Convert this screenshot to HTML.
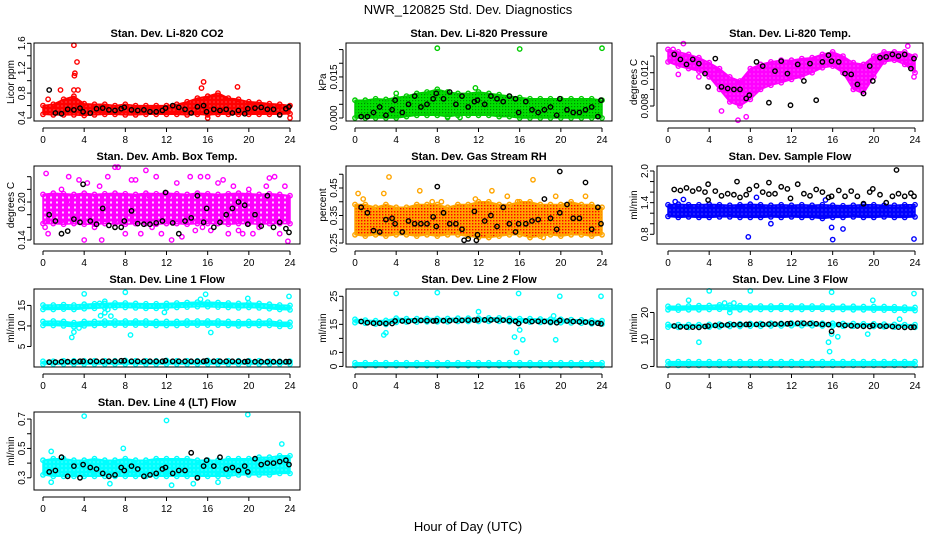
<!DOCTYPE html>
<html><head><meta charset="utf-8">
<style>
html,body{margin:0;padding:0;background:#fff;}
svg{display:block;font-family:"Liberation Sans",sans-serif;}
</style></head>
<body>
<svg id="chart" width="936" height="540" viewBox="0 0 936 540" xmlns="http://www.w3.org/2000/svg">
<defs>
<pattern id="rhpat" width="3" height="3" patternUnits="userSpaceOnUse"><rect width="3" height="3" fill="#ffa500"/><rect x="1" y="1" width="1.4" height="1.4" fill="#ff0000"/></pattern>
<pattern id="prpat" width="3" height="3" patternUnits="userSpaceOnUse"><rect width="3" height="3" fill="#00e000"/><rect x="1" y="1" width="1.2" height="1.2" fill="#008800"/></pattern>
<pattern id="redpat" width="4" height="4" patternUnits="userSpaceOnUse"><rect width="4" height="4" fill="#ff0000"/><rect x="1.5" y="1.5" width="1" height="1" fill="#ff9090"/></pattern>
<pattern id="magpat" width="4" height="4" patternUnits="userSpaceOnUse"><rect width="4" height="4" fill="#ff00ff"/><rect x="1.5" y="1.5" width="1" height="1" fill="#ff90ff"/></pattern>
<pattern id="magsparse" width="6" height="5" patternUnits="userSpaceOnUse"><rect width="6" height="5" fill="#ff00ff"/><rect x="2" y="1.5" width="2" height="2" fill="#ffd0ff"/></pattern>
<pattern id="bluepat" width="4" height="4" patternUnits="userSpaceOnUse"><rect width="4" height="4" fill="#0000ff"/><rect x="1.5" y="1.5" width="1" height="1" fill="#8080ff"/></pattern>
<pattern id="cyanpat" width="4" height="4" patternUnits="userSpaceOnUse"><rect width="4" height="4" fill="#00ffff"/><rect x="1.5" y="1.5" width="1" height="1" fill="#a0ffff"/></pattern>
</defs>
<text x="468" y="14" text-anchor="middle" font-size="13">NWR_120825  Std. Dev. Diagnostics</text>
<text x="468" y="531" text-anchor="middle" font-size="13">Hour of Day (UTC)</text>
<g id="plots"></g>
</svg>
<script>
const hourGrid=[0,1,2,3,4,5,6,7,8,9,10,11,12,13,14,15,16,17,18,19,20,21,22,23,24];
const xTicks=[0,4,8,12,16,20,24];
const blackHours=[0.6,1.2,1.8,2.4,3.0,3.6,3.9,4.6,5.2,5.8,6.4,7.0,7.6,7.9,8.6,9.2,9.8,10.4,11.0,11.6,11.9,12.6,13.2,13.8,14.4,15.0,15.6,15.9,16.6,17.2,17.8,18.4,19.0,19.6,19.9,20.6,21.2,21.8,22.4,23.0,23.6,23.9];

const co2Lo=[0.46,0.45,0.45,0.45,0.44,0.45,0.46,0.46,0.45,0.45,0.46,0.46,0.46,0.46,0.45,0.46,0.45,0.46,0.46,0.46,0.46,0.46,0.46,0.46,0.47];
const co2Hi=[0.6,0.62,0.7,0.75,0.63,0.62,0.62,0.6,0.62,0.6,0.6,0.6,0.6,0.62,0.66,0.72,0.75,0.8,0.72,0.7,0.66,0.65,0.63,0.62,0.6];
const co2Black=[0.85,0.48,0.47,0.54,0.53,0.56,0.5,0.48,0.55,0.56,0.53,0.52,0.55,0.57,0.53,0.52,0.53,0.5,0.5,0.52,0.56,0.6,0.57,0.54,0.48,0.58,0.6,0.5,0.54,0.52,0.54,0.48,0.52,0.47,0.55,0.56,0.57,0.54,0.54,0.45,0.55,0.58];
const co2Out=[[3,1.57],[3.3,1.3],[3.1,1.12],[3.05,1.08],[1.7,0.85],[3,0.85],[3.4,0.85],[15.6,0.98],[15.4,0.88],[18.9,0.9],[24,0.4],[16,0.4],[0.5,0.7]];

const presLo=[0,0,0,0,0,0.0005,0.001,0.001,0.001,0.0005,0.001,0.001,0.001,0.001,0.0005,0.0005,0,0,0,0,0,0,0,0,0];
const presHi=[0.0065,0.0065,0.007,0.0068,0.0075,0.008,0.009,0.0095,0.0105,0.0095,0.009,0.009,0.0095,0.009,0.0085,0.008,0.0075,0.007,0.007,0.007,0.007,0.007,0.007,0.007,0.0065];
const presBlack=[0.0005,0.0005,0.002,0.004,0.001,0.003,0.0065,0.002,0.005,0.008,0.004,0.005,0.007,0.009,0.007,0.0095,0.005,0.008,0.004,0.006,0.0065,0.005,0.008,0.007,0.006,0.008,0.007,0.002,0.006,0.003,0.002,0.003,0.004,0.001,0.007,0.003,0.002,0.002,0.003,0.004,0.0005,0.0065];
const presOut=[[8,0.0255],[16,0.0252],[24,0.0255],[11.7,0.011],[4,0.009],[9,0.0002],[10.2,0.0002]];

const tempLo=[0.0133,0.0128,0.0125,0.0122,0.0115,0.0100,0.0085,0.0080,0.0088,0.0100,0.0105,0.0108,0.0112,0.0115,0.0120,0.0126,0.0128,0.0120,0.0100,0.0095,0.0115,0.0133,0.0135,0.0130,0.0120];
const tempHi=[0.0148,0.0145,0.0142,0.0138,0.0132,0.0125,0.0115,0.0110,0.0125,0.0130,0.0133,0.0135,0.0135,0.0137,0.0138,0.0142,0.0145,0.0140,0.0132,0.0130,0.0140,0.0145,0.0145,0.0145,0.0140];
const tempBlack=[0.0142,0.0136,0.0130,0.0136,0.0131,0.0119,0.0103,0.0137,0.0103,0.0101,0.0100,0.0100,0.0089,0.0093,0.0133,0.0128,0.0084,0.0122,0.0134,0.0119,0.0081,0.0130,0.0110,0.0131,0.0087,0.0133,0.0141,0.0134,0.0133,0.0119,0.0118,0.0106,0.0095,0.0128,0.0110,0.0138,0.0139,0.0142,0.0140,0.0142,0.0125,0.0137];
const tempOut=[[0.5,0.0148],[1.5,0.0155],[5.2,0.0074],[6.8,0.0063],[7.6,0.0067],[23.3,0.0152],[23.9,0.0115],[1,0.0118],[3,0.0115]];

const ambLo=[0.166,0.166,0.165,0.166,0.165,0.165,0.166,0.166,0.165,0.166,0.166,0.165,0.166,0.166,0.165,0.166,0.166,0.166,0.165,0.166,0.166,0.165,0.166,0.166,0.166];
const ambHi=[0.212,0.214,0.213,0.212,0.214,0.212,0.213,0.214,0.213,0.212,0.214,0.213,0.214,0.213,0.212,0.214,0.213,0.212,0.213,0.214,0.213,0.212,0.213,0.212,0.21];
const ambBlack=[0.18,0.17,0.15,0.154,0.173,0.168,0.228,0.17,0.165,0.19,0.163,0.16,0.16,0.17,0.186,0.166,0.165,0.165,0.167,0.17,0.215,0.167,0.15,0.17,0.175,0.21,0.168,0.19,0.16,0.168,0.18,0.19,0.2,0.195,0.165,0.18,0.162,0.21,0.16,0.168,0.158,0.152];
const ambOut=[[0.3,0.245],[0.2,0.16],[0.5,0.15],[1.8,0.22],[2.5,0.24],[3.5,0.235],[4,0.14],[4.3,0.23],[5.5,0.225],[5.7,0.14],[6.3,0.24],[7,0.255],[7.3,0.255],[8.6,0.235],[9,0.235],[9.5,0.15],[10,0.25],[10.6,0.16],[11,0.24],[11.5,0.15],[12.2,0.21],[13,0.23],[13.5,0.145],[14.3,0.24],[14.8,0.155],[15.3,0.24],[16,0.24],[16.3,0.155],[17,0.23],[17.5,0.235],[18,0.15],[18.5,0.225],[19.4,0.15],[20,0.22],[20.4,0.15],[21,0.16],[21.7,0.225],[22,0.238],[22.5,0.24],[23,0.15],[23.5,0.225],[23.8,0.138],[2.7,0.2],[8,0.15],[12.5,0.14],[19,0.155],[5,0.16],[10.3,0.21],[15.5,0.16]];

const rhLo=[0.28,0.275,0.28,0.275,0.28,0.28,0.275,0.28,0.275,0.28,0.28,0.275,0.27,0.27,0.275,0.28,0.28,0.27,0.275,0.28,0.275,0.28,0.28,0.275,0.28];
const rhHi=[0.39,0.39,0.38,0.39,0.38,0.38,0.39,0.39,0.39,0.38,0.39,0.39,0.4,0.4,0.39,0.39,0.4,0.4,0.39,0.39,0.39,0.4,0.39,0.39,0.38];
const rhBlack=[0.38,0.36,0.295,0.29,0.335,0.34,0.32,0.29,0.33,0.32,0.32,0.32,0.345,0.31,0.36,0.32,0.32,0.30,0.265,0.365,0.28,0.33,0.35,0.31,0.38,0.32,0.29,0.32,0.32,0.33,0.335,0.41,0.34,0.30,0.36,0.39,0.34,0.34,0.47,0.30,0.38,0.32];
const rhOut=[[0.3,0.43],[0.8,0.41],[2.8,0.43],[3.3,0.49],[6.3,0.44],[7.5,0.4],[8.4,0.4],[11.7,0.41],[13.3,0.44],[14.8,0.42],[15.8,0.4],[17.3,0.48],[19.5,0.42],[22.4,0.42],[18.3,0.27],[13,0.27],[17,0.27]];
const rhBlackOut=[[19.9,0.51],[8,0.455],[10.6,0.26],[11.8,0.26]];

const flowLo=[1.14,1.12,1.13,1.12,1.12,1.13,1.13,1.12,1.12,1.12,1.13,1.12,1.13,1.12,1.12,1.1,1.12,1.12,1.13,1.12,1.12,1.13,1.12,1.12,1.13];
const flowHi=[1.36,1.37,1.36,1.36,1.37,1.36,1.35,1.36,1.37,1.36,1.35,1.36,1.35,1.36,1.35,1.36,1.35,1.34,1.35,1.36,1.36,1.35,1.35,1.36,1.36];
const flowBlack=[1.65,1.63,1.68,1.62,1.66,1.6,1.45,1.62,1.53,1.57,1.55,1.5,1.55,1.65,1.72,1.6,1.56,1.57,1.7,1.66,1.48,1.75,1.57,1.53,1.65,1.6,1.5,1.52,1.63,1.52,1.62,1.52,1.38,1.6,1.66,1.55,1.4,1.52,1.57,1.52,1.58,1.52];
const flowOut=[[7.8,0.75],[16,0.7],[23.9,0.71],[8.6,1.5],[15.3,1.45],[17,0.9],[15.9,0.93],[10,1.0],[0.7,1.42],[1.5,1.46]];
const flowBlackOut=[[22.2,2.02],[3.9,1.75],[9.8,1.78],[6.7,1.8]];

const l1TopLo=[14.0,14.0,14.1,14.0,14.2,14.3,14.4,14.5,14.5,14.4,14.3,14.3,14.4,14.5,14.6,14.7,14.7,14.6,14.5,14.4,14.5,14.4,14.2,14.0,13.9];
const l1TopHi=[15.1,15.1,15.2,15.1,15.3,15.4,15.5,15.6,15.6,15.5,15.4,15.4,15.5,15.6,15.7,15.8,15.8,15.7,15.6,15.5,15.6,15.5,15.3,15.1,15.0];
const l1MidLo=[10.1,10.1,10.0,9.8,10.0,10.1,10.2,10.2,10.2,10.2,10.2,10.1,10.1,10.1,10.2,10.2,10.2,10.2,10.1,10.0,10.1,10.1,10.1,9.9,9.9];
const l1MidHi=[11.1,11.2,11.1,10.8,11.1,11.1,11.2,11.2,11.2,11.2,11.2,11.1,11.1,11.1,11.2,11.2,11.2,11.2,11.1,11.0,11.1,11.1,11.2,10.9,10.9];
const l1BotLo=[0.7,0.7,0.7,0.7,0.7,0.7,0.7,0.7,0.7,0.7,0.7,0.7,0.7,0.7,0.7,0.7,0.7,0.7,0.7,0.7,0.7,0.7,0.7,0.7,0.7];
const l1BotHi=[1.4,1.4,1.5,1.5,1.5,1.5,1.5,1.5,1.6,1.5,1.5,1.5,1.6,1.5,1.5,1.5,1.6,1.5,1.5,1.5,1.5,1.5,1.4,1.4,1.4];
const l1Black=[1.2,1.2,1.3,1.3,1.3,1.4,1.4,1.4,1.4,1.4,1.4,1.4,1.5,1.5,1.4,1.4,1.4,1.4,1.4,1.4,1.5,1.4,1.4,1.4,1.4,1.4,1.4,1.5,1.4,1.4,1.4,1.4,1.4,1.3,1.4,1.3,1.3,1.3,1.3,1.3,1.3,1.3];
const l1Out=[[4,17.8],[8,18.2],[15.8,17.7],[19.9,16.7],[23.9,17.2],[2.8,7.2],[3,8.5],[8.5,7.8],[16.3,8.4],[5.6,12.5],[6,13.2],[6.3,14],[6.6,12.4],[5.5,15.5],[6,16],[15.3,16.5],[11.8,13.3],[3.5,9.5],[3.8,10.5]];

const l2TopLo=[15.6,15.4,15.1,15.0,15.7,15.8,15.8,15.9,15.9,15.9,16.0,16.0,16.0,16.1,16.1,15.9,15.8,15.8,15.7,15.6,15.6,15.5,15.4,15.2,15.1];
const l2TopHi=[16.8,16.5,16.3,16.4,17.2,17.0,17.0,17.1,17.1,17.1,17.2,17.2,17.2,17.3,17.3,17.1,17.0,17.0,16.9,16.8,16.8,16.7,16.6,16.4,16.3];
const l2BotLo=[0.3,0.3,0.3,0.3,0.3,0.3,0.3,0.3,0.3,0.3,0.3,0.3,0.3,0.3,0.3,0.3,0.3,0.3,0.3,0.3,0.3,0.3,0.3,0.3,0.3];
const l2BotHi=[1.3,1.3,1.3,1.3,1.3,1.3,1.3,1.3,1.3,1.3,1.3,1.3,1.3,1.3,1.3,1.3,1.3,1.3,1.3,1.3,1.3,1.3,1.3,1.3,1.3];
const l2Black=[16,15.6,15.4,15.4,15.3,15.3,16.2,16.2,16.1,16.3,16.4,16.3,16.2,16.3,16.3,16.3,16.4,16.4,16.5,16.5,16.6,16.6,16.6,16.5,16.5,16.3,16.1,15.3,16.2,16,16.1,16,15.8,15.6,16.4,16.2,16,15.9,15.8,15.5,15.4,15.2];
const l2Out=[[4,26],[8,26.3],[15.9,26],[19.9,25],[23.9,25],[12,19.5],[2.8,11.2],[3,12],[15.5,10.5],[15.7,5],[16.3,9.5],[16,13],[19.5,9.5],[19.3,18]];

const l3TopLo=[21.0,20.9,21.0,21.0,21.1,21.2,21.1,21.0,21.0,21.1,21.1,21.2,21.1,21.1,21.2,21.2,21.1,21.1,21.0,21.0,20.9,20.9,20.8,20.8,20.7];
const l3TopHi=[22.3,22.3,22.4,22.5,22.6,22.8,22.7,22.5,22.4,22.4,22.4,22.5,22.4,22.4,22.4,22.4,22.3,22.3,22.3,22.2,22.2,22.2,22.1,22.0,21.9];
const l3MidLo=[14.6,14.5,14.5,14.5,14.6,14.7,14.8,14.8,14.9,14.9,15.0,15.0,15.1,15.1,15.1,15.0,15.0,14.9,14.9,14.8,14.8,14.7,14.6,14.5,14.5];
const l3MidHi=[15.6,15.5,15.5,15.5,15.6,15.7,15.8,15.8,15.9,15.9,16.0,16.0,16.1,16.1,16.1,16.0,16.0,15.9,15.9,15.8,15.8,15.7,15.6,15.5,15.5];
const l3BotLo=[0.4,0.4,0.4,0.4,0.4,0.4,0.4,0.4,0.4,0.4,0.4,0.4,0.4,0.4,0.4,0.4,0.4,0.4,0.4,0.4,0.4,0.4,0.4,0.4,0.4];
const l3BotHi=[1.8,1.8,1.8,1.8,1.8,1.8,1.8,1.8,1.8,1.8,1.8,1.8,1.8,1.8,1.8,1.8,1.8,1.8,1.8,1.8,1.8,1.8,1.8,1.8,1.8];
const l3Black=[15,14.7,14.6,14.6,14.5,14.8,15,15.2,15.3,15.4,15.5,15.5,15.6,15.6,15.6,15.6,15.7,15.7,15.8,15.8,15.9,16,16,15.9,15.8,15.6,15.5,13,15.5,15.2,15.1,15,14.9,14.8,15.2,15,14.9,14.8,14.6,14.5,14.5,14.6];
const l3Out=[[4,28],[8,28],[15.9,27.5],[19.9,24.5],[23.9,27],[3,9],[2,24.5],[15.6,9],[15.7,5.5],[16.5,11],[19.4,12],[22.5,17.5],[5.5,23.5],[6,20],[6.4,23.5],[15.9,12]];

const l4Lo=[0.32,0.31,0.31,0.31,0.31,0.31,0.31,0.31,0.31,0.31,0.31,0.31,0.31,0.31,0.31,0.31,0.31,0.31,0.31,0.32,0.32,0.32,0.32,0.33,0.33];
const l4Hi=[0.42,0.43,0.43,0.42,0.42,0.43,0.42,0.42,0.43,0.42,0.42,0.43,0.43,0.43,0.43,0.42,0.42,0.42,0.43,0.43,0.43,0.44,0.44,0.45,0.45];
const l4Black=[0.34,0.35,0.44,0.31,0.38,0.3,0.39,0.37,0.36,0.33,0.31,0.32,0.37,0.35,0.38,0.36,0.31,0.32,0.33,0.36,0.37,0.33,0.35,0.35,0.47,0.3,0.38,0.42,0.38,0.44,0.36,0.37,0.35,0.38,0.34,0.43,0.39,0.4,0.4,0.41,0.42,0.39];
const l4Out=[[4,0.72],[12,0.69],[19.9,0.73],[0.8,0.48],[7.8,0.5],[23.2,0.53],[0.8,0.27],[6.5,0.26],[12.5,0.25],[14.6,0.26],[17,0.27]];

const colLeft=[34,346,657], colX0=[43,355,668];
const rowTop=[43,166,289,412];
const panels=[
 {name:'co2',title:'Stan. Dev. Li-820 CO2',ylab:'Licor ppm',c:0,r:0,dom:[0.352,1.605],ticks:[0.4,0.6,0.8,1.0,1.2,1.4,1.6],labels:['0.4','','0.8','','1.2','','1.6'],color:'#ff0000',fill:'url(#redpat)',bands:[[co2Lo,co2Hi]],black:co2Black,out:co2Out},
 {name:'pressure',title:'Stan. Dev. Li-820 Pressure',ylab:'kPa',c:1,r:0,dom:[-0.0011,0.0274],ticks:[0,0.005,0.01,0.015,0.02,0.025],labels:['0.000','','','0.015','',''],color:'#00cc00',fill:'url(#prpat)',bands:[[presLo,presHi]],black:presBlack,out:presOut},
 {name:'li820-temp',title:'Stan. Dev. Li-820 Temp.',ylab:'degrees C',c:2,r:0,dom:[0.0062,0.01557],ticks:[0.008,0.010,0.012,0.014],labels:['0.008','','0.012',''],color:'#ff00ff',fill:'url(#magpat)',bands:[[tempLo,tempHi]],black:tempBlack,out:tempOut},
 {name:'amb-box-temp',title:'Stan. Dev. Amb. Box Temp.',ylab:'degrees C',c:0,r:1,dom:[0.1337,0.2569],ticks:[0.14,0.16,0.18,0.20,0.22,0.24],labels:['0.14','','','0.20','',''],color:'#ff00ff',fill:'url(#magsparse)',bands:[[ambLo,ambHi]],black:ambBlack,out:ambOut},
 {name:'gas-stream-rh',title:'Stan. Dev. Gas Stream RH',ylab:'percent',c:1,r:1,dom:[0.2464,0.53],ticks:[0.25,0.30,0.35,0.40,0.45,0.50],labels:['0.25','','0.35','','0.45',''],color:'#ffa500',fill:'url(#rhpat)',bands:[[rhLo,rhHi]],black:rhBlack,out:rhOut,blackOut:rhBlackOut},
 {name:'sample-flow',title:'Stan. Dev. Sample Flow',ylab:'ml/min',c:2,r:1,dom:[0.616,2.095],ticks:[0.8,1.0,1.2,1.4,1.6,1.8,2.0],labels:['0.8','','','1.4','','','2.0'],color:'#0000ff',fill:'url(#bluepat)',bands:[[flowLo,flowHi]],black:flowBlack,out:flowOut,blackOut:flowBlackOut},
 {name:'line1-flow',title:'Stan. Dev. Line 1 Flow',ylab:'ml/min',c:0,r:2,dom:[0,19.0],ticks:[5,10,15],labels:['5','10','15'],color:'#00ffff',fill:'url(#cyanpat)',bands:[[l1TopLo,l1TopHi],[l1MidLo,l1MidHi],[l1BotLo,l1BotHi]],black:l1Black,out:l1Out},
 {name:'line2-flow',title:'Stan. Dev. Line 2 Flow',ylab:'ml/min',c:1,r:2,dom:[-0.2,27.6],ticks:[0,5,10,15,20,25],labels:['0','5','','15','','25'],color:'#00ffff',fill:'url(#cyanpat)',bands:[[l2TopLo,l2TopHi],[l2BotLo,l2BotHi]],black:l2Black,out:l2Out},
 {name:'line3-flow',title:'Stan. Dev. Line 3 Flow',ylab:'ml/min',c:2,r:2,dom:[-0.2,28.7],ticks:[0,10,20],labels:['0','10','20'],color:'#00ffff',fill:'url(#cyanpat)',bands:[[l3TopLo,l3TopHi],[l3MidLo,l3MidHi],[l3BotLo,l3BotHi]],black:l3Black,out:l3Out},
 {name:'line4-flow',title:'Stan. Dev. Line 4 (LT) Flow',ylab:'ml/min',c:0,r:3,dom:[0.217,0.748],ticks:[0.3,0.4,0.5,0.6,0.7],labels:['0.3','','0.5','','0.7'],color:'#00ffff',fill:'url(#cyanpat)',bands:[[l4Lo,l4Hi]],black:l4Black,out:l4Out}
];
const NS='http://www.w3.org/2000/svg';
const root=document.getElementById('plots');
function mk(tag,attrs,parent){const e=document.createElementNS(NS,tag);for(const k in attrs)e.setAttribute(k,attrs[k]);parent.appendChild(e);return e;}
function circ(g,cx,cy,col){const e=mk('circle',{cx:cx.toFixed(1),cy:cy.toFixed(1),r:2.2,fill:'none',stroke:col,'stroke-width':1.4},g);return e;}
panels.forEach(p=>{
  const L=colLeft[p.c],R=L+266,T=rowTop[p.r],B=T+78;
  const x0=colX0[p.c];
  const xs=h=>x0+h/24*247;
  const ys=v=>B-(v-p.dom[0])/(p.dom[1]-p.dom[0])*78;
  const g=mk('g',{},root);
  
  
  const clip=mk('clipPath',{id:'clip-'+p.name},g);
  mk('rect',{x:L,y:T-3,width:266,height:84},clip);
  const t=mk('text',{x:(L+R)/2,y:T-6,'text-anchor':'middle','font-size':11,'font-weight':'bold'},g);
  t.textContent=p.title;
  
  
  const yl=mk('text',{x:0,y:0,transform:`translate(${L-20},${(T+B)/2}) rotate(-90)`,'text-anchor':'middle','font-size':10},g);
  yl.textContent=p.ylab;
  
  
  const marks=mk('g',{'clip-path':`url(#clip-${p.name})`},g);
  
  
  p.bands.forEach((b,bi)=>{
    const lo=b[0],hi=b[1];
    let d='M'+hourGrid.map((h,i)=>xs(h).toFixed(1)+','+ys(hi[i]).toFixed(1)).join('L');
    d+='L'+hourGrid.slice().reverse().map((h,j)=>{const i=hourGrid.length-1-j;return xs(h).toFixed(1)+','+ys(lo[i]).toFixed(1);}).join('L')+'Z';
    const band=mk('path',{d:d,fill:p.fill,stroke:p.color,'stroke-width':1.5,'stroke-linejoin':'round'},marks);
    
    
    hourGrid.forEach((h,i)=>{circ(marks,xs(h),ys(hi[i]),p.color);circ(marks,xs(h),ys(lo[i]),p.color);});
  });
  p.out.forEach(o=>{
    const c=circ(marks,xs(o[0]),ys(o[1]),p.color);
    
    
  });
  p.black.forEach((v,i)=>{
    const c=circ(marks,xs(blackHours[i]),ys(v),'#000');
    
    
  });
  (p.blackOut||[]).forEach(o=>{
    const c=circ(marks,xs(o[0]),ys(o[1]),'#000');
    
    
  });
  const box=mk('rect',{x:L,y:T,width:266,height:78,fill:'none',stroke:'#000','stroke-width':1},g);
  
  
  const xa=mk('g',{},g);
  
  
  mk('line',{x1:xs(0),x2:xs(24),y1:B+7,y2:B+7,stroke:'#000'},xa);
  xTicks.forEach(h=>{
    mk('line',{x1:xs(h),x2:xs(h),y1:B+7,y2:B+11,stroke:'#000'},xa);
    const tx=mk('text',{x:xs(h),y:B+22,'text-anchor':'middle','font-size':10},xa);
    tx.textContent=h;
  });
  const ya=mk('g',{},g);
  
  
  const yt0=ys(p.ticks[0]),yt1=ys(p.ticks[p.ticks.length-1]);
  mk('line',{x1:L-3,x2:L-3,y1:yt0,y2:yt1,stroke:'#000'},ya);
  p.ticks.forEach((v,i)=>{
    const yy=ys(v);
    mk('line',{x1:L-7,x2:L-3,y1:yy,y2:yy,stroke:'#000'},ya);
    if(p.labels[i]){
      const tx=mk('text',{x:0,y:0,transform:`translate(${L-9},${yy}) rotate(-90)`,'text-anchor':'middle','font-size':10},ya);
      tx.textContent=p.labels[i];
    }
  });
});
</script>
</body></html>
